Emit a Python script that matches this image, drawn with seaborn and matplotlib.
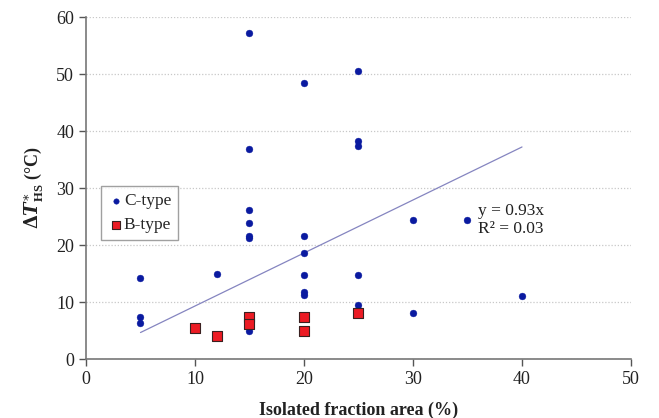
import matplotlib
matplotlib.use("Agg")
import matplotlib.pyplot as plt
import seaborn as sns
import pandas as pd
import numpy as np

# ---- data ----
c_x = [5, 5, 5, 12, 15, 15, 15, 15, 15, 15, 15,
       20, 20, 20, 20, 20, 20, 25, 25, 25, 25, 25, 30, 30, 35, 40]
c_y = [14.2, 7.4, 6.3, 15.0, 57.2, 36.8, 26.1, 23.9, 21.6, 21.2, 4.9,
       48.5, 21.5, 18.6, 14.7, 11.8, 11.3, 50.5, 38.3, 37.4, 14.7, 9.5, 24.4, 8.1, 24.4, 11.0]
b_x = [10, 12, 15, 15, 20, 20, 25]
b_y = [5.4, 4.0, 7.4, 6.1, 7.4, 5.0, 8.1]
trend_x = [5, 40]
slope = 0.93
r2 = 0.03
x_ticks = [0, 10, 20, 30, 40, 50]
y_ticks = [0, 10, 20, 30, 40, 50, 60]

df = pd.DataFrame({
    "x": c_x + b_x,
    "y": c_y + b_y,
    "type": ["C-type"] * len(c_x) + ["B-type"] * len(b_x),
})
trend = pd.DataFrame({"x": trend_x, "y": [slope * v for v in trend_x]})

sns.set_theme(style="white")
plt.rcParams["font.family"] = ["Liberation Serif", "DejaVu Serif"]
plt.rcParams["mathtext.fontset"] = "dejavuserif"

fig = plt.figure(figsize=(6.59, 4.18), dpi=100)
ax = fig.add_axes([0.1305, 0.1411, 0.827, 0.8182])

ax.set_axisbelow(True)
ax.yaxis.grid(True, linestyle=(0, (1, 1.5)), color="#c8c8c8", linewidth=0.9)

sns.lineplot(data=trend, x="x", y="y", ax=ax, color="#8585c0", linewidth=0.9, legend=False)

sns.scatterplot(data=df[df["type"] == "C-type"], x="x", y="y", ax=ax,
                color="#0a1aa0", marker="o", s=24, edgecolor="#0a1aa0", linewidth=0.3,
                label="C-type", zorder=3)
sns.scatterplot(data=df[df["type"] == "B-type"], x="x", y="y", ax=ax,
                color="#ec1b24", marker="s", s=44, edgecolor="#3a2020", linewidth=0.8,
                label="B-type", zorder=4)

ax.set_xlim(0, 50)
ax.set_ylim(0, 60)
ax.set_xticks(x_ticks)
ax.set_yticks(y_ticks)
ax.tick_params(axis="both", labelsize=13, direction="out", length=5, width=1,
               color="#555555", labelcolor="#222222", bottom=True, left=True)
for s in ["top", "right"]:
    ax.spines[s].set_visible(False)
for s in ["left", "bottom"]:
    ax.spines[s].set_color("#777777")
    ax.spines[s].set_linewidth(1.2)

ax.set_xlabel("Isolated fraction area (%)", fontsize=13, fontweight="bold", color="#222222", labelpad=10)
ax.set_ylabel(r"$\boldsymbol{\Delta T}_{\mathregular{HS}}^{\ast}$ (°C)", fontsize=13,
              fontweight="bold", color="#222222", labelpad=8)

ax.text(36.0, 24.4, f"y = {slope}x\nR² = {r2:.2f}", fontsize=12.5, color="#222222",
        linespacing=1.2, va="center", ha="left")

leg = ax.legend(loc="upper left", bbox_to_anchor=(0.028, 0.505), frameon=True, fancybox=False,
                fontsize=12.5, handletextpad=0.0, borderpad=0.4, labelspacing=0.45,
                handlelength=0.9, markerscale=0.8, borderaxespad=0)
leg.get_frame().set_edgecolor("#888888")
leg.get_frame().set_linewidth(1.0)

fig.savefig("out.png", dpi=100)
